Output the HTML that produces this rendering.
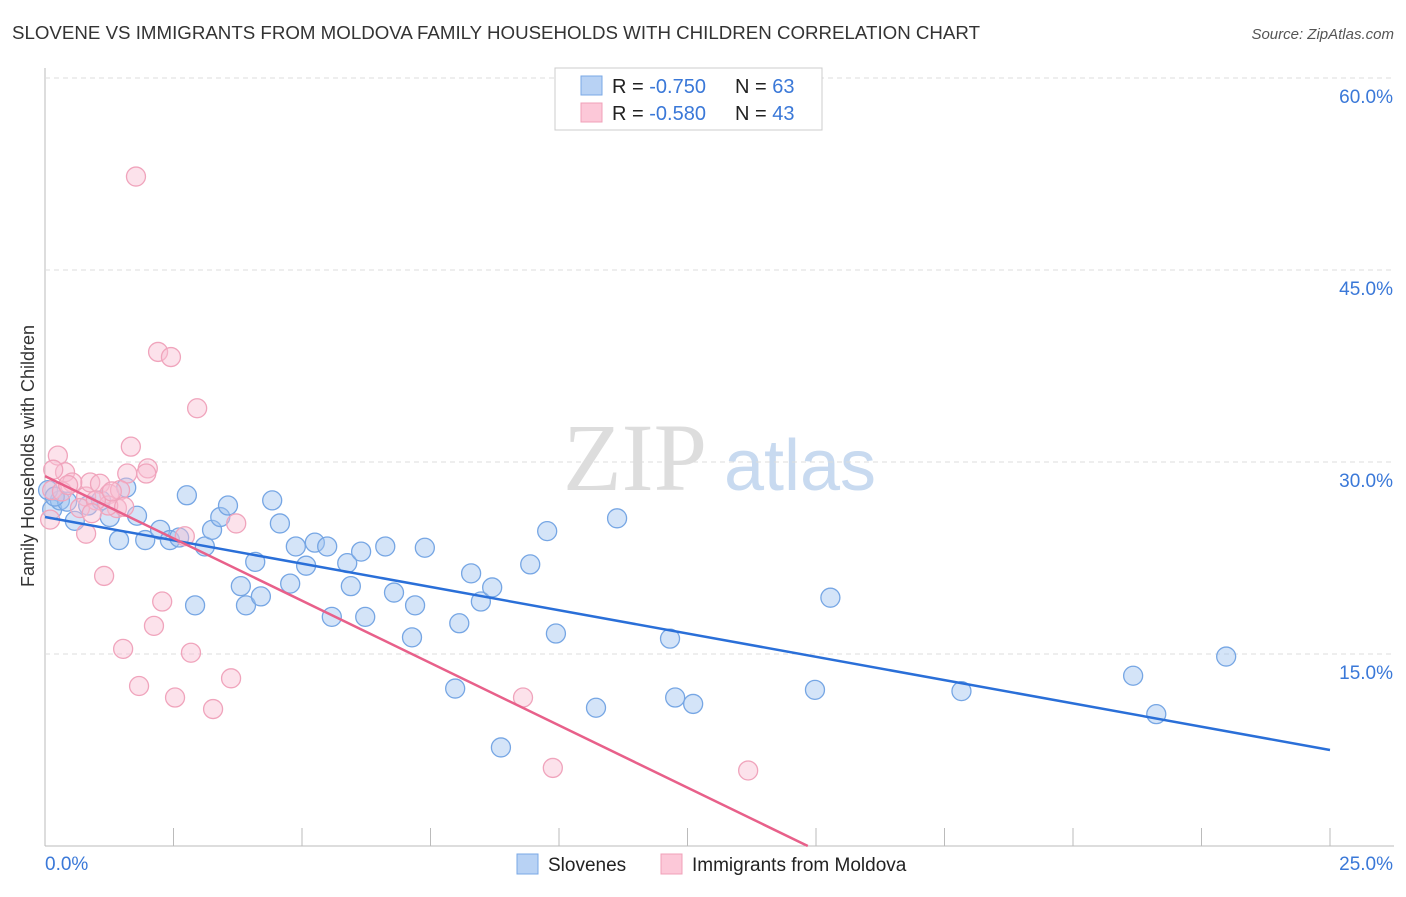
<!DOCTYPE html>
<html><head><meta charset="utf-8"><style>
body{margin:0;background:#fff;font-family:"Liberation Sans",sans-serif}
</style></head><body>
<svg id="c" width="1406" height="892" xmlns="http://www.w3.org/2000/svg">
<text x="12" y="39" font-size="18" fill="#333" textLength="968" lengthAdjust="spacingAndGlyphs">SLOVENE VS IMMIGRANTS FROM MOLDOVA FAMILY HOUSEHOLDS WITH CHILDREN CORRELATION CHART</text>
<text x="1394" y="39" font-size="15" fill="#555" font-style="italic" text-anchor="end">Source: ZipAtlas.com</text>
<g>
<text x="635" y="490" font-size="96" fill="#ddd" font-family="Liberation Serif,serif" text-anchor="middle">ZIP</text>
<text x="800" y="490" font-size="72" fill="#c8daf0" text-anchor="middle">atlas</text>
</g>
<text transform="translate(34,456) rotate(-90)" font-size="18" fill="#333" text-anchor="middle">Family Households with Children</text>
<g id="grid"></g><g id="ticks"></g><g id="pts"></g><g id="lines"></g>
<g>
<rect x="555" y="68" width="267" height="62" fill="#fff" stroke="#ccc"/>
<rect x="581" y="76" width="21" height="19" fill="#b8d2f4" stroke="#7aa8e6"/>
<rect x="581" y="103" width="21" height="19" fill="#fcc8d8" stroke="#f0a0b8"/>
<text x="612" y="93" font-size="20" fill="#222">R = <tspan fill="#3a78d8">-0.750</tspan><tspan x="735">N = </tspan><tspan fill="#3a78d8">63</tspan></text>
<text x="612" y="120" font-size="20" fill="#222">R = <tspan fill="#3a78d8">-0.580</tspan><tspan x="735">N = </tspan><tspan fill="#3a78d8">43</tspan></text>
</g>
<g>
<rect x="517" y="854" width="21" height="20" fill="#b8d2f4" stroke="#7aa8e6"/>
<text x="548" y="871" font-size="19" fill="#222">Slovenes</text>
<rect x="661" y="854" width="21" height="20" fill="#fcc8d8" stroke="#f0a0b8"/>
<text x="692" y="871" font-size="19" fill="#222">Immigrants from Moldova</text>
</g>
</svg>
<script>
const blueX=[0.14,0.29,0.43,0.58,0.84,1.09,1.26,1.44,1.58,1.79,1.95,2.24,2.43,2.61,2.76,2.92,3.11,3.25,3.41,3.56,3.81,3.91,4.09,4.20,4.42,4.57,4.77,4.88,5.08,5.25,5.49,5.58,5.88,5.95,6.15,6.23,6.62,6.79,7.14,7.20,7.39,7.98,8.06,8.29,8.48,8.70,8.87,9.44,9.77,9.94,10.72,11.13,12.16,12.26,12.61,14.98,15.28,17.83,21.17,21.62,22.98,0.06,0.19];
const blueY=[26.3,27.0,26.9,25.4,26.6,27.0,25.7,23.9,28.0,25.8,23.9,24.7,23.9,24.1,27.4,18.8,23.4,24.7,25.7,26.6,20.3,18.8,22.2,19.5,27.0,25.2,20.5,23.4,21.9,23.7,23.4,17.9,22.1,20.3,23.0,17.9,23.4,19.8,16.3,18.8,23.3,12.3,17.4,21.3,19.1,20.2,7.7,22.0,24.6,16.6,10.8,25.6,16.2,11.6,11.1,12.2,19.4,12.1,13.3,10.3,14.8,27.8,27.3];
const pinkX=[1.77,2.20,2.45,2.96,1.67,0.25,0.39,0.16,1.60,2.00,1.97,3.72,0.80,0.88,0.53,1.07,1.25,1.46,1.40,0.68,1.23,1.54,0.99,0.80,1.15,2.28,2.12,2.84,1.52,1.83,2.53,3.27,3.62,2.72,9.30,9.88,13.68,0.10,0.14,0.33,0.45,1.30,0.91];
const pinkY=[52.3,38.6,38.2,34.2,31.2,30.5,29.2,29.4,29.1,29.5,29.1,25.2,27.3,28.4,28.4,28.3,27.5,27.8,26.4,26.4,26.6,26.5,27.0,24.4,21.1,19.1,17.2,15.1,15.4,12.5,11.6,10.7,13.1,24.2,11.6,6.1,5.9,25.5,27.8,27.7,28.2,27.7,26.0];
const trendBlue=[25.7,7.5];
const trendPink=[28.9,14.84];
const yTicks=[15,30,45,60];
const xTickLabels=["0.0%","25.0%"];
const NS="http://www.w3.org/2000/svg";
const X=v=>45+v/25*1285, Y=v=>846-v/15*192;
function mk(t,a,p){const e=document.createElementNS(NS,t);for(const k in a)e.setAttribute(k,a[k]);p.appendChild(e);return e;}
const grid=document.getElementById('grid'),ticks=document.getElementById('ticks'),pts=document.getElementById('pts'),lines=document.getElementById('lines');
mk('line',{x1:45,y1:68,x2:45,y2:846,stroke:'#bbb'},grid);
mk('line',{x1:45,y1:846,x2:1394,y2:846,stroke:'#bbb'},grid);
yTicks.forEach(v=>{const l=mk('line',{x1:45,y1:Y(v),x2:1394,y2:Y(v),stroke:'#ddd','stroke-dasharray':'5,4'},grid);


const t=mk('text',{x:1393,y:Y(v)+25,'font-size':19,fill:'#3a78d8','text-anchor':'end'},ticks);t.textContent=v.toFixed(1)+'%';

});
for(let i=1;i<=10;i++){const l=mk('line',{x1:X(i*2.5),y1:828,x2:X(i*2.5),y2:846,stroke:'#bbb'},ticks);

}
let t0=mk('text',{x:45,y:870,'font-size':19,fill:'#3a78d8'},ticks);t0.textContent=xTickLabels[0];


let t1=mk('text',{x:1393,y:870,'font-size':19,fill:'#3a78d8','text-anchor':'end'},ticks);t1.textContent=xTickLabels[1];


blueX.forEach((v,i)=>{const c=mk('circle',{cx:X(v),cy:Y(blueY[i]),r:9.5,fill:'rgba(160,196,240,0.45)',stroke:'#76a6e4','stroke-width':1.3},pts);

});
pinkX.forEach((v,i)=>{const c=mk('circle',{cx:X(v),cy:Y(pinkY[i]),r:9.5,fill:'rgba(248,190,210,0.45)',stroke:'#f0a4bc','stroke-width':1.3},pts);

});
const lb=mk('line',{x1:X(0),y1:Y(trendBlue[0]),x2:X(25),y2:Y(trendBlue[1]),stroke:'#2a6fd8','stroke-width':2.5},lines);


const lp=mk('line',{x1:X(0),y1:Y(trendPink[0]),x2:X(trendPink[1]),y2:Y(0),stroke:'#e8608a','stroke-width':2.5},lines);


</script>
</body></html>
